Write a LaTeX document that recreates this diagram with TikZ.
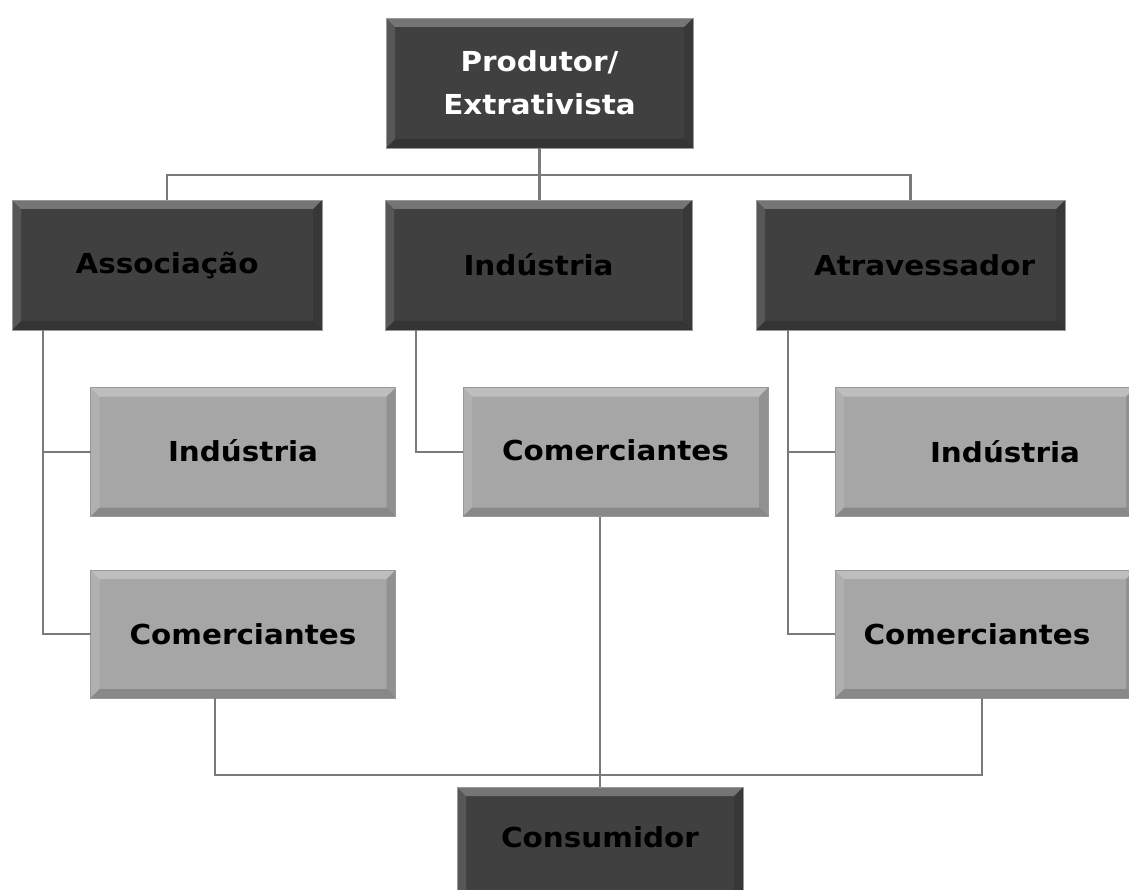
\documentclass[tikz,border=0pt]{standalone}
\usepackage{fontspec}
\newfontfamily\boxfont[FakeStretch=1.07]{DejaVu Sans}
\definecolor{darkbox}{HTML}{404040}
\definecolor{lightbox}{HTML}{A6A6A6}
\definecolor{linegray}{HTML}{7A7A7A}
\begin{document}
\begin{tikzpicture}[x=1pt,y=-1pt,
  bevel/.style={path picture={
    \fill[white,opacity=0.28] (path picture bounding box.north west) -- (path picture bounding box.north east)
      -- ([xshift=-9pt,yshift=-9pt]path picture bounding box.north east) -- ([xshift=9pt,yshift=-9pt]path picture bounding box.north west) -- cycle;
    \fill[white,opacity=0.12] (path picture bounding box.north west) -- ([xshift=9pt,yshift=-9pt]path picture bounding box.north west)
      -- ([xshift=9pt,yshift=9pt]path picture bounding box.south west) -- (path picture bounding box.south west) -- cycle;
    \fill[black,opacity=0.12] (path picture bounding box.north east) -- ([xshift=-9pt,yshift=-9pt]path picture bounding box.north east)
      -- ([xshift=-9pt,yshift=9pt]path picture bounding box.south east) -- (path picture bounding box.south east) -- cycle;
    \fill[black,opacity=0.18] (path picture bounding box.south west) -- ([xshift=9pt,yshift=9pt]path picture bounding box.south west)
      -- ([xshift=-9pt,yshift=9pt]path picture bounding box.south east) -- (path picture bounding box.south east) -- cycle;
  }},
  box/.style={rectangle, bevel, draw=gray!80, line width=0.8pt, inner sep=0pt, outer sep=0pt,
    align=center, font=\boxfont\bfseries\fontsize{27.5}{43}\selectfont},
  darkb/.style={box, fill=darkbox, text=black},
  lightb/.style={box, fill=lightbox, text=black},
  conn/.style={draw=linegray, line width=2.8pt}
]
\useasboundingbox (0,0) rectangle (1129,890);
\fill[white] (0,0) rectangle (1129,890);

% nodes
\node[darkb, text=white, minimum width=307pt, minimum height=130pt] (p) at (539.5,83) {Produtor/\\Extrativista};
\node[darkb, minimum width=310pt, minimum height=130pt] (a) at (167,265) {Associação};
\node[darkb, minimum width=307pt, minimum height=130pt] (i) at (538.5,265) {Indústria};
\node[darkb, minimum width=309pt, minimum height=130pt] (t) at (910.5,265) {\raisebox{-8pt}{\hspace*{28pt}Atravessador}};

\node[lightb, minimum width=305pt, minimum height=129pt] (ai) at (243,452) {\raisebox{3pt}{Indústria}};
\node[lightb, minimum width=305pt, minimum height=128pt] (ac) at (243,634) {Comerciantes};
\node[lightb, minimum width=305pt, minimum height=129pt] (ic) at (615.5,452) {\raisebox{4pt}{Comerciantes}};
\node[lightb, minimum width=300pt, minimum height=129pt] (ti) at (985,452) {\raisebox{-7pt}{\hspace*{40pt}Indústria}};
\node[lightb, minimum width=300pt, minimum height=128pt] (tc) at (985,634) {\raisebox{-9pt}{\hspace*{-16pt}Comerciantes}};

\node[darkb, minimum width=286pt, minimum height=112pt] (c) at (600,843) {\raisebox{12pt}{Consumidor}};

% connectors
\coordinate (bus) at (540,175);
\coordinate (bbus) at (600,775);
\draw[conn] (p.south) -- (i.north -| p.south);
\draw[conn] (a.north) |- (bus) -| (t.north);

\draw[conn] ([xshift=31pt]a.south west) |- (ai.west);
\draw[conn] ([xshift=31pt]a.south west) |- (ac.west);
\draw[conn] ([xshift=31pt]i.south west) |- (ic.west);
\draw[conn] ([xshift=32pt]t.south west) |- (ti.west);
\draw[conn] ([xshift=32pt]t.south west) |- (tc.west);

\draw[conn] (ic.south -| c.north) -- (c.north);
\draw[conn] ([xshift=-28pt]ac.south) |- (bbus) -| ([xshift=-3pt]tc.south);
\end{tikzpicture}
\end{document}
